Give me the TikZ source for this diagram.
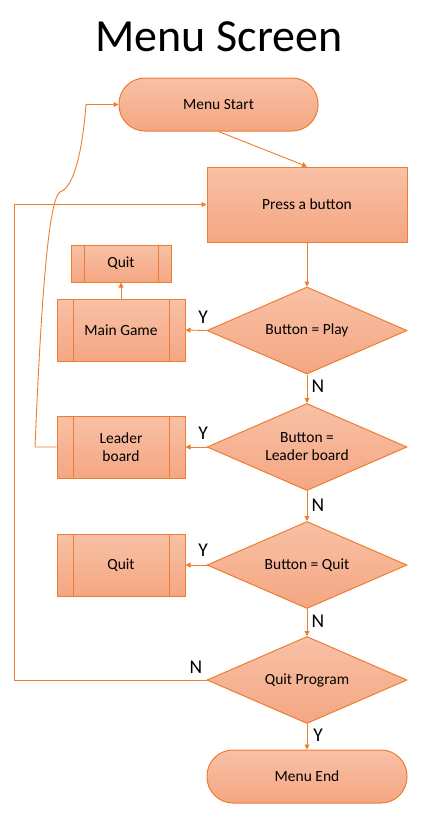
\documentclass[tikz,border=0pt]{standalone}
\usepackage{fontspec}
\setmainfont{Carlito}
\usetikzlibrary{shapes.geometric,arrows.meta}
\definecolor{orl}{RGB}{237,125,49}
\definecolor{ftop}{RGB}{248,193,166}
\definecolor{fbot}{RGB}{245,166,130}
\tikzset{
  base/.style={draw=orl, line width=1pt, top color=ftop, bottom color=fbot,
    font=\fontsize{15.5}{18}\selectfont, align=center, inner sep=0pt},
  term/.style={base, rounded corners=26pt, minimum width=199pt, minimum height=53pt},
  proc/.style={base, minimum width=200pt, minimum height=75pt},
  dec/.style={base, diamond, minimum width=200pt, minimum height=87pt, aspect=2.3},
  sub/.style={base, minimum width=128pt, minimum height=62pt,
    path picture={\draw[orl,line width=1pt]
      ([xshift=#1]path picture bounding box.north west) -- ([xshift=#1]path picture bounding box.south west)
      ([xshift=-#1]path picture bounding box.north east) -- ([xshift=-#1]path picture bounding box.south east);}},
  sub/.default=16pt,
  conn/.style={draw=orl, line width=0.9pt, -{Triangle[length=5pt,width=5pt]}},
  yn/.style={font=\fontsize{19.5}{22}\selectfont, inner sep=0pt},
  ttl/.style={font=\fontsize{46}{50}\selectfont, inner sep=0pt}
}
\begin{document}
\begin{tikzpicture}[x=1pt,y=-1pt]
\useasboundingbox (0,0) rectangle (433,814);
\node[ttl] (title) at (219,37) {Menu Screen};
\node[term] (start) at (218.5,104.5) {Menu Start};
\node[proc] (press) at (307,204.5) {Press a button};
\node[sub=13pt, minimum width=100pt, minimum height=37pt] (quit1) at (121,263.5) {Quit};
\node[sub] (game) at (121,330) {Main Game};
\node[dec] (d1) at (307,330.5) {Button = Play};
\node[dec] (d2) at (307,447) {Button =\\Leader board};
\node[sub] (lb) at (121,447) {Leader\\board};
\node[dec] (d3) at (307,565) {Button = Quit};
\node[sub] (quit2) at (121,565) {Quit};
\node[dec] (d4) at (307,680) {Quit Program};
\node[term, minimum width=200pt] (end) at (307,776.5) {Menu End};

\coordinate (lbk) at (35,447);
\coordinate (bend) at (60,192);
\coordinate (top) at (86,104.5);
\coordinate (loop) at (14,680);

\draw[conn] (start.south) -- (press.north);
\draw[conn] (press.south) -- (d1.north);
\draw[conn] (d1.west) -- (game.east);
\draw[conn] (game.north) -- (quit1.south);
\draw[conn] (d1.south) -- (d2.north);
\draw[conn] (d2.west) -- (lb.east);
\draw[conn] (lb.west) -- (lbk) .. controls (40,330) and (47,200) .. (bend)
   .. controls (78,186) and (84,130) .. (top) -- (start.west);
\draw[conn] (d2.south) -- (d3.north);
\draw[conn] (d3.west) -- (quit2.east);
\draw[conn] (d3.south) -- (d4.north);
\draw[conn] (d4.west) -- (loop) |- (press.west);
\draw[conn] (d4.south) -- (end.north);

\node[yn] (y1) at (203,317) {Y};
\node[yn] (n1) at (318,386) {N};
\node[yn] (y2) at (203,433) {Y};
\node[yn] (n2) at (318,505) {N};
\node[yn] (y3) at (203,550) {Y};
\node[yn] (n3) at (318,621) {N};
\node[yn] (n4) at (196,667) {N};
\node[yn] (y4) at (318,735) {Y};
\end{tikzpicture}
\end{document}
